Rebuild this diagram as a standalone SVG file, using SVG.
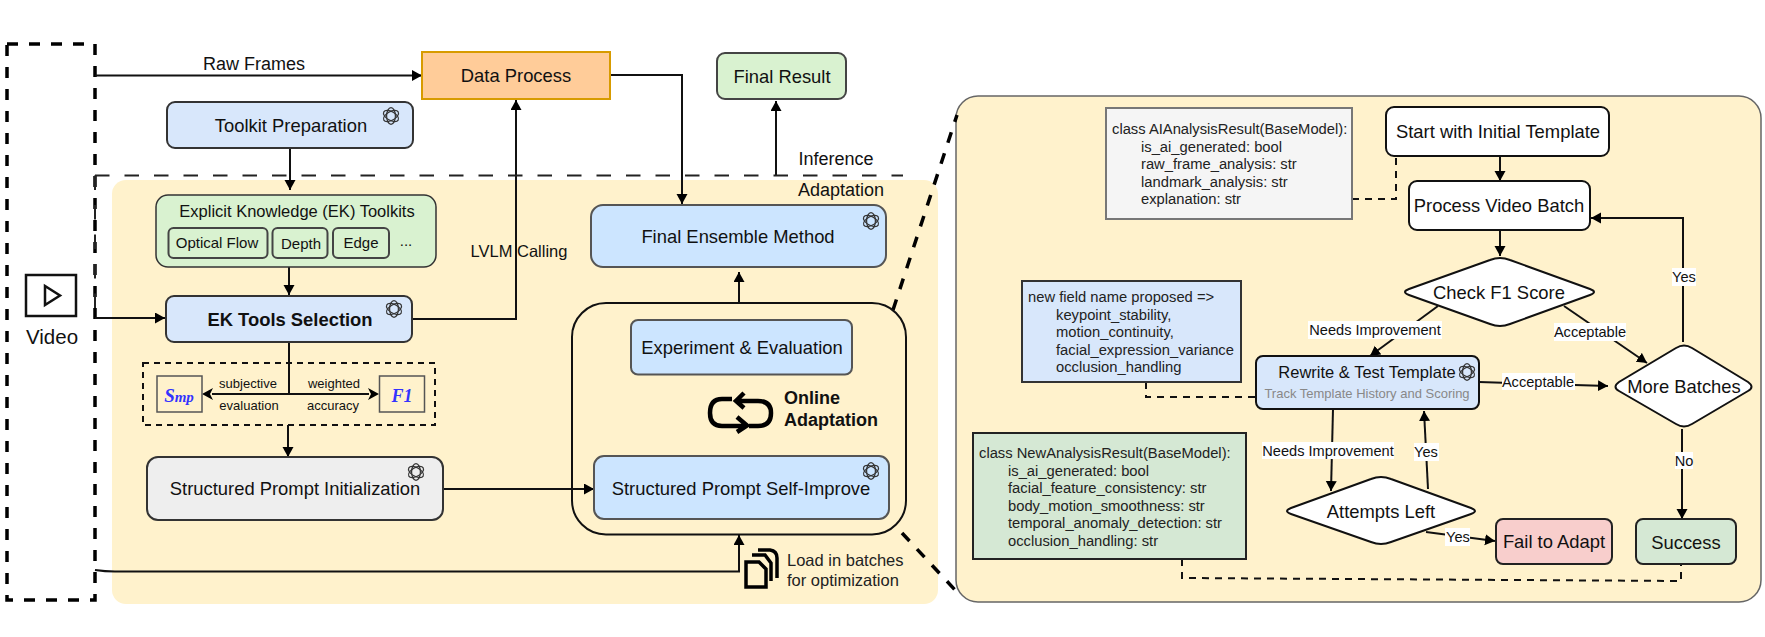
<svg xmlns="http://www.w3.org/2000/svg" width="1765" height="637" viewBox="0 0 1765 637">
<style>
text{font-family:"Liberation Sans",Arial,sans-serif;fill:#111;text-anchor:middle}
.t18{font-size:18.400px}.t16{font-size:16.500px}.t15{font-size:15px}.t13{font-size:13px}.t14{font-size:14.600px}
.code{font-size:14.750px;text-anchor:start;fill:#222}
.b{font-weight:bold}
.c{fill:none;stroke:#111;stroke-width:2}
.a{marker-end:url(#arr)}
.dash{fill:none;stroke:#111;stroke-width:2;stroke-dasharray:7 6}
.thick{fill:none;stroke:#000;stroke-width:3.500;stroke-dasharray:11 11}
.box{stroke:#333;stroke-width:2}
.blue{fill:#d8e7fb}.sky{fill:#cce5ff;stroke:#555;stroke-width:2}
.white{fill:#fff;stroke:#111;stroke-width:2}
.lab{fill:#fff;stroke:none}
</style>
<defs>
<marker id="arr" markerUnits="userSpaceOnUse" markerWidth="12" markerHeight="12" refX="10" refY="5.500" orient="auto"><path d="M0 0L10 5.500L0 11z" fill="#000"/></marker>
<g id="gpt" fill="none" stroke="#333" stroke-width="1.200">
<ellipse rx="8.300" ry="4.400" transform="rotate(30)"/><ellipse rx="8.300" ry="4.400" transform="rotate(90)"/><ellipse rx="8.300" ry="4.400" transform="rotate(150)"/>
</g>
</defs>

<rect id="adaptation-panel" x="112" y="180" width="826" height="424" rx="14" fill="#fff2cc"/>
<rect id="detail-panel" x="956" y="96" width="805" height="506" rx="22" fill="#fff2cc" stroke="#666" stroke-width="1.500"/>

<g id="video">
<rect x="7" y="44" width="88" height="556" fill="none" stroke="#000" stroke-width="3.500" stroke-dasharray="11 11"/>
<rect x="26" y="275" width="50" height="41" fill="#fff" stroke="#111" stroke-width="2.500"/>
<path d="M45 286V305L60 295.500z" fill="none" stroke="#111" stroke-width="2.500"/>
<text x="52" y="344" style="font-size:20.500px">Video</text>
</g>

<g id="connectors">
<path class="c a" d="M95 75.500H422"/>
<path class="c a" d="M290 148V190"/>
<path class="c a" d="M289 267V295"/>
<path class="c a" d="M95 318H165"/>
<path class="c a" d="M412 319H516V100"/>
<path class="c a" d="M610 75H682V204"/>
<path class="c a" d="M776 175V101"/>
<path class="c a" d="M739 303V272"/>
<path class="c" d="M289 342V394"/>
<path class="c" d="M212 394H369"/>
<path d="M202 394L213 388L210 394L213 400z" fill="#000"/>
<path d="M379 394L368 388L371 394L368 400z" fill="#000"/>
<path class="c a" d="M288 425V457"/>
<path class="c a" d="M443 489H594"/>
<path class="c a" d="M95 570Q105 571.500 115 571.500H739V535"/>
<path d="M95 175.500H903M95 175.500V318" fill="none" stroke="#222" stroke-width="2" stroke-dasharray="14.500 15"/>
<path class="thick" d="M893 310L957 115"/>
<path class="thick" d="M902 533L956 591"/>
<path class="c a" d="M1500 156V181"/>
<path class="c a" d="M1500 230V256"/>
<path class="c a" d="M1683 342V218H1591"/>
<path class="c a" d="M1438 306L1370 356"/>
<path class="c a" d="M1564 306L1647 363"/>
<path class="c a" d="M1479 382L1608 386"/>
<path class="c a" d="M1333 409L1331 491"/>
<path class="c a" d="M1428 489L1424 411"/>
<path class="c a" d="M1426 532L1495 541"/>
<path class="c a" d="M1682 429V519"/>
<path class="dash" d="M1352 199H1396V156"/>
<path class="dash" d="M1146 382V397H1256"/>
<path class="dash" d="M1182 559V578L1681 581V564"/>
</g>

<g id="raw-frames-label"><text x="254" y="69.500" style="font-size:18px">Raw Frames</text></g>
<g id="data-process"><rect x="422" y="52" width="188" height="47" fill="#ffcc99" stroke="#d79b00" stroke-width="2"/><text class="t18" x="516" y="82">Data Process</text></g>
<g id="final-result"><rect x="717" y="53" width="129" height="46" rx="8" fill="#d9f2d0" stroke="#444" stroke-width="2"/><text class="t18" x="782" y="83">Final Result</text></g>
<g id="toolkit-preparation"><rect class="box blue" x="167" y="102" width="246" height="46" rx="8"/><text class="t18" x="291" y="132">Toolkit Preparation</text><use href="#gpt" x="391" y="116"/></g>
<g id="ek-toolkits">
<rect x="156" y="195" width="280" height="72" rx="12" fill="#d9f2d0" stroke="#333" stroke-width="1.500"/>
<text class="t16" x="297" y="217">Explicit Knowledge (EK) Toolkits</text>
<rect x="168.500" y="228" width="99" height="30" rx="5" fill="#d9f2d0" stroke="#444" stroke-width="2"/><text class="t15" x="217" y="248">Optical Flow</text>
<rect x="272.500" y="228" width="55" height="30" rx="5" fill="#d9f2d0" stroke="#444" stroke-width="2"/><text class="t15" x="301" y="249">Depth</text>
<rect x="333" y="228" width="56" height="30" rx="5" fill="#d9f2d0" stroke="#444" stroke-width="2"/><text class="t15" x="361" y="248">Edge</text>
<text class="t15" x="406" y="246">...</text>
</g>
<g id="ek-tools-selection"><rect class="box blue" x="166" y="296" width="246" height="46" rx="8"/><text class="t18 b" x="290" y="326">EK Tools Selection</text><use href="#gpt" x="394" y="309"/></g>
<g id="metrics">
<rect x="143" y="363" width="292" height="62" fill="none" stroke="#111" stroke-width="2" stroke-dasharray="6 5"/>
<rect x="157" y="376" width="45" height="36" fill="#fff2cc" stroke="#555" stroke-width="1.500"/>
<text x="179" y="402" style="font-family:'Liberation Serif',serif;font-weight:bold;font-style:italic;fill:#3333ff"><tspan font-size="19">S</tspan><tspan font-size="15">mp</tspan></text>
<rect x="379.500" y="376" width="45" height="36" fill="#fff2cc" stroke="#555" stroke-width="1.500"/>
<text x="402" y="402" style="font-family:'Liberation Serif',serif;font-weight:bold;font-style:italic;fill:#3333ff;font-size:18px">F1</text>
<text class="t13" x="248" y="388">subjective</text><text class="t13" x="249" y="410">evaluation</text>
<text class="t13" x="334" y="388">weighted</text><text class="t13" x="333" y="410">accuracy</text>
</g>
<g id="prompt-init"><rect x="147" y="457" width="296" height="63" rx="11" fill="#eeeeee" stroke="#333" stroke-width="2"/><text class="t18" x="295" y="495">Structured Prompt Initialization</text><use href="#gpt" x="416" y="472"/></g>
<g id="lvlm-label"><text class="t16" x="519" y="257">LVLM Calling</text></g>
<g id="phase-labels"><text x="836" y="165" style="font-size:18px">Inference</text><text x="841" y="196" style="font-size:18px">Adaptation</text></g>
<g id="final-ensemble"><rect class="sky" x="591" y="205" width="295" height="62" rx="12"/><text class="t18" x="738" y="243">Final Ensemble Method</text><use href="#gpt" x="871" y="221"/></g>
<g id="online-loop">
<rect x="572" y="303" width="334" height="231.500" rx="34" fill="none" stroke="#111" stroke-width="2"/>
<rect class="sky" x="631" y="320" width="221" height="54.500" rx="7"/><text class="t18" x="742" y="354">Experiment &amp; Evaluation</text>
<path d="M732 399H722Q710 399 710 413Q710 426 722 426H745M737 417L747 425.500L737 432M744 393L736 401L744 408M738 401H758Q771 401 771 413Q771 426 758 426H749" fill="none" stroke="#000" stroke-width="4.500"/>
<text class="b" style="text-anchor:start;font-size:18px" x="784" y="404">Online</text>
<text class="b" style="text-anchor:start;font-size:18px" x="784" y="426">Adaptation</text>
<rect class="sky" x="594" y="456" width="295" height="63" rx="10"/><text class="t18" x="741" y="495">Structured Prompt Self-Improve</text><use href="#gpt" x="871" y="471"/>
</g>
<g id="load-batches">
<path d="M746 562H759L766 569V587H746ZM752 555H765L771 563V581M758 550H770Q777 551 777 558V578" fill="none" stroke="#000" stroke-width="3.500"/>
<text class="t16" style="text-anchor:start;fill:#222" x="787" y="566">Load in batches</text>
<text class="t16" style="text-anchor:start;fill:#222" x="787" y="586">for optimization</text>
</g>

<g id="class-ai"><rect x="1106" y="108" width="246" height="111" fill="#f5f5f5" stroke="#777" stroke-width="2"/>
<text class="code"><tspan x="1112" y="134">class AIAnalysisResult(BaseModel):</tspan><tspan x="1141" y="151.500">is_ai_generated: bool</tspan><tspan x="1141" y="169">raw_frame_analysis: str</tspan><tspan x="1141" y="186.500">landmark_analysis: str</tspan><tspan x="1141" y="204">explanation: str</tspan></text></g>
<g id="new-fields"><rect x="1022" y="281" width="219" height="101" fill="#d8e7fb" stroke="#333" stroke-width="2"/>
<text class="code"><tspan x="1028" y="302">new field name proposed =&gt;</tspan><tspan x="1056" y="319.500">keypoint_stability,</tspan><tspan x="1056" y="337">motion_continuity,</tspan><tspan x="1056" y="354.500">facial_expression_variance</tspan><tspan x="1056" y="372">occlusion_handling</tspan></text></g>
<g id="class-new"><rect x="973" y="433" width="273" height="126" fill="#d5e8d4" stroke="#222" stroke-width="2"/>
<text class="code"><tspan x="979" y="458">class NewAnalysisResult(BaseModel):</tspan><tspan x="1008" y="475.500">is_ai_generated: bool</tspan><tspan x="1008" y="493">facial_feature_consistency: str</tspan><tspan x="1008" y="510.500">body_motion_smoothness: str</tspan><tspan x="1008" y="528">temporal_anomaly_detection: str</tspan><tspan x="1008" y="545.500">occlusion_handling: str</tspan></text></g>

<g id="start"><rect class="white" x="1386" y="107" width="223" height="49" rx="8"/><text class="t18" x="1498" y="138">Start with Initial Template</text></g>
<g id="process-batch"><rect class="white" x="1409" y="181" width="181" height="49" rx="8"/><text class="t18" x="1499" y="212">Process Video Batch</text></g>
<g id="check-f1"><path class="white" d="M1490 260Q1500 256 1510 260L1590 289Q1598 292 1590 295L1510 324Q1500 328 1490 324L1409 295Q1401 292 1409 289Z"/><text class="t18" x="1499" y="299">Check F1 Score</text></g>
<g id="rewrite"><rect x="1256" y="356" width="223" height="53" rx="7" fill="#d8e7fb" stroke="#111" stroke-width="2"/><text class="t16" x="1367" y="378">Rewrite &amp; Test Template</text><text class="t13" x="1367" y="398" style="fill:#888">Track Template History and Scoring</text><use href="#gpt" x="1467" y="372"/></g>
<g id="more-batches"><path class="white" d="M1676 348Q1684 343 1692 348L1748 382Q1755 387 1748 391L1692 424Q1684 429 1676 424L1619 391Q1612 387 1619 382Z"/><text class="t18" x="1684" y="393">More Batches</text></g>
<g id="attempts"><path class="white" d="M1371 479Q1381 475 1391 479L1471 508Q1479 511 1471 514L1391 542Q1381 546 1371 542L1291 514Q1283 511 1291 508Z"/><text class="t18" x="1381" y="518">Attempts Left</text></g>
<g id="fail"><rect x="1496" y="519" width="116" height="45" rx="7" fill="#f8cecc" stroke="#222" stroke-width="2"/><text class="t18" x="1554" y="548">Fail to Adapt</text></g>
<g id="success"><rect x="1636" y="519" width="100" height="45" rx="7" fill="#d5e8d4" stroke="#222" stroke-width="2"/><text class="t18" x="1686" y="549">Success</text></g>

<g id="edge-labels">
<rect class="lab" x="1308" y="321" width="134" height="18"/><text class="t14" x="1375" y="335">Needs Improvement</text>
<rect class="lab" x="1554" y="323" width="72" height="18"/><text class="t14" x="1590" y="337">Acceptable</text>
<rect class="lab" x="1672" y="268" width="24" height="18"/><text class="t14" x="1684" y="282">Yes</text>
<rect class="lab" x="1502" y="373" width="73" height="17"/><text class="t14" x="1538" y="387">Acceptable</text>
<rect class="lab" x="1262" y="442" width="132" height="17"/><text class="t14" x="1328" y="456">Needs Improvement</text>
<rect class="lab" x="1414" y="443" width="25" height="18"/><text class="t14" x="1426" y="457">Yes</text>
<rect class="lab" x="1445" y="528" width="25" height="18"/><text class="t14" x="1458" y="542">Yes</text>
<rect class="lab" x="1675" y="452" width="18" height="17"/><text class="t14" x="1684" y="466">No</text>
</g>
</svg>
